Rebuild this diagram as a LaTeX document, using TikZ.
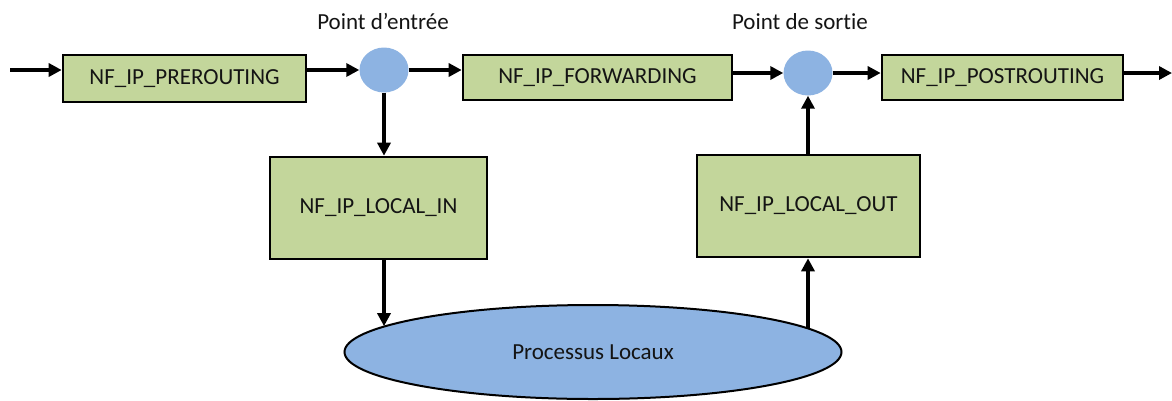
\documentclass[tikz,border=0pt]{standalone}
\usepackage{fontspec}
\setmainfont{Carlito}[Ligatures={NoCommon}]
\usetikzlibrary{arrows.meta,shapes.geometric}
\definecolor{hookgreen}{HTML}{C3D69B}
\definecolor{hookblue}{HTML}{8DB3E2}
\definecolor{inkdark}{HTML}{141414}
\begin{document}
\begin{tikzpicture}[x=1pt,y=-1pt,
  every node/.style={font=\fontsize{23}{27}\selectfont, text=inkdark},
  hookbox/.style={draw=black, line width=2.6pt, fill=hookgreen, inner sep=0pt},
  joint/.style={ellipse, fill=hookblue, inner sep=0pt, minimum width=49pt, minimum height=45pt},
  flowarrow/.style={line width=3.4pt, -{Triangle[length=13pt,width=13pt]}},
  tag/.style={inner sep=0pt}]
\useasboundingbox (0,0) rectangle (1172,400);

% netfilter hooks
\node[hookbox, minimum width=243pt, minimum height=47pt] (pre)  at (184.5,78.5) {NF\_IP\_PREROUTING};
\node[hookbox, minimum width=269pt, minimum height=45pt] (fwd)  at (597.5,77.5) {NF\_IP\_FORWARDING};
\node[hookbox, minimum width=241pt, minimum height=45pt] (post) at (1002.5,77.5) {NF\_IP\_POSTROUTING};
\node[hookbox, minimum width=217pt, minimum height=102pt] (lin)  at (378.5,208) {NF\_IP\_LOCAL\_IN};
\node[hookbox, minimum width=223pt, minimum height=102pt] (lout) at (808.5,206) {NF\_IP\_LOCAL\_OUT};

% routing decision points
\node[joint] (c1) at (384,70) {};
\node[joint] (c2) at (808,73) {};
\node[tag] (entry) at (383,21) {Point d’entrée};
\node[tag] (exit)  at (800,22) {Point de sortie};

% local processes
\node[ellipse, draw=black, line width=2pt, fill=hookblue, inner sep=0pt,
      minimum width=497pt, minimum height=94pt] (proc) at (593,352) {Processus Locaux};

% packet flow
\coordinate (start) at (10,70);
\coordinate (finish) at (1172,73);
\draw[flowarrow] (start) -- (pre.west |- start);
\draw[flowarrow] (pre.east |- c1) -- (c1.west);
\draw[flowarrow] (c1.east) -- (fwd.west |- c1);
\draw[flowarrow] (fwd.east |- c2) -- (c2.west);
\draw[flowarrow] (c2.east) -- (post.west |- c2);
\draw[flowarrow] (post.east |- c2) -- (finish);
\draw[flowarrow] (c1.south) -- (lin.north -| c1);
\draw[flowarrow] (lin.south -| c1) -- (proc.173 -| c1);
\draw[flowarrow] (proc.6.3 -| c2) -- (lout.south -| c2);
\draw[flowarrow] (lout.north -| c2) -- (c2.south);
\end{tikzpicture}
\end{document}
